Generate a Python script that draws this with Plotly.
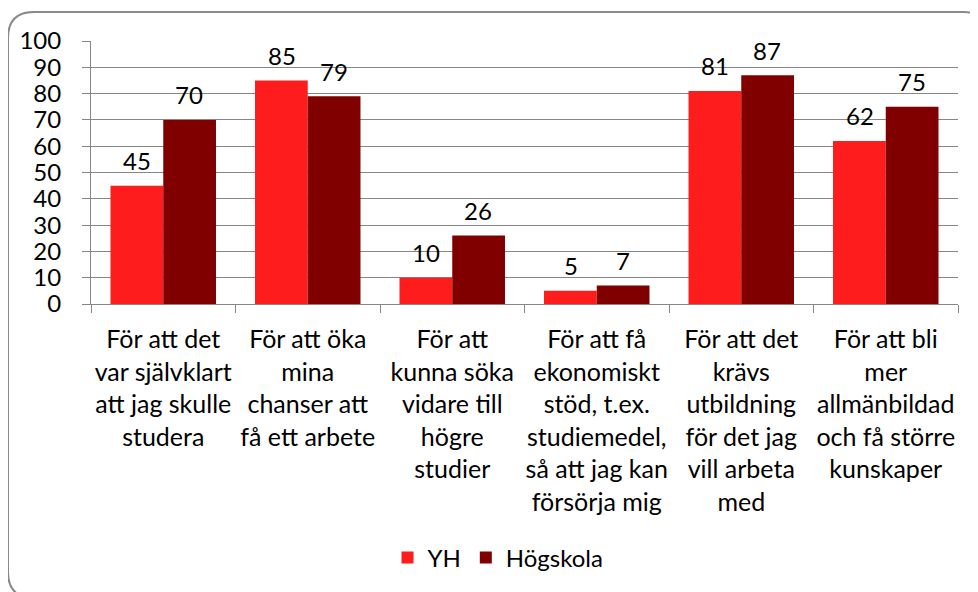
import plotly.graph_objects as go

categories = [
    "För att det<br>var självklart<br>att jag skulle<br>studera",
    "För att öka<br>mina<br>chanser att<br>få ett arbete",
    "För att<br>kunna söka<br>vidare till<br>högre<br>studier",
    "För att få<br>ekonomiskt<br>stöd, t.ex.<br>studiemedel,<br>så att jag kan<br>försörja mig",
    "För att det<br>krävs<br>utbildning<br>för det jag<br>vill arbeta<br>med",
    "För att bli<br>mer<br>allmänbildad<br>och få större<br>kunskaper",
]
yh_values = [45, 85, 10, 5, 81, 62]
hogskola_values = [70, 79, 26, 7, 87, 75]
series_names = ["YH", "Högskola"]
y_ticks = [0, 10, 20, 30, 40, 50, 60, 70, 80, 90, 100]

# the page body has an 8px margin; compensate so the figure lands like the reference
OFF = 8
W, H = 978 - OFF, 592 - OFF
ML, MR, MT, MB = 91 - OFF, 20, 41 - OFF, 288
PW = W - ML - MR
PH = H - MT - MB

FONT = "Lato"
GREY = "#868686"

def px_x(px):
    return (px - OFF - ML) / PW

def px_y(py):
    return (H - MB - (py - OFF)) / PH

fig = go.Figure()
fig.add_trace(go.Bar(name=series_names[0], x=categories, y=yh_values,
                     marker=dict(color="#FF1C1C", line=dict(width=0))))
fig.add_trace(go.Bar(name=series_names[1], x=categories, y=hogskola_values,
                     marker=dict(color="#800000", line=dict(width=0))))

annotations = []
for vals, shift in ((yh_values, -26), (hogskola_values, 26)):
    for c, v in zip(categories, vals):
        annotations.append(dict(x=c, y=v, xref="x", yref="y", text=str(v),
                                showarrow=False, xshift=shift, yshift=25,
                                font=dict(family=FONT, size=24, color="#000")))

# rounded border
x0, y0, x1, y1, r = 8, 12, 990, 598, 26
path = (f"M {px_x(x0+r)},{px_y(y0)} L {px_x(x1-r)},{px_y(y0)} "
        f"Q {px_x(x1)},{px_y(y0)} {px_x(x1)},{px_y(y0+r)} "
        f"L {px_x(x1)},{px_y(y1-r)} Q {px_x(x1)},{px_y(y1)} {px_x(x1-r)},{px_y(y1)} "
        f"L {px_x(x0+r)},{px_y(y1)} Q {px_x(x0)},{px_y(y1)} {px_x(x0)},{px_y(y1-r)} "
        f"L {px_x(x0)},{px_y(y0+r)} Q {px_x(x0)},{px_y(y0)} {px_x(x0+r)},{px_y(y0)} Z")

fig.update_layout(
    width=W, height=H,
    margin=dict(l=ML, r=MR, t=MT, b=MB),
    paper_bgcolor="white", plot_bgcolor="white",
    barmode="group", bargap=0.27, bargroupgap=0,
    font=dict(family=FONT, size=24, color="#000"),
    annotations=annotations,
    shapes=[dict(type="path", path=path, xref="paper", yref="paper",
                 line=dict(color="#8a8a8a", width=2), layer="below")],
    legend=dict(orientation="h", x=px_x(498), xanchor="center",
                y=px_y(558), yanchor="middle",
                font=dict(family=FONT, size=24, color="#000"),
                itemwidth=30, bgcolor="rgba(0,0,0,0)"),
    xaxis=dict(showline=True, linecolor=GREY, linewidth=1,
               ticks="outside", tickson="boundaries", ticklen=8, tickcolor=GREY,
               showgrid=False, tickangle=0,
               tickfont=dict(family=FONT, size=25, color="#000"),
               ticklabelstandoff=13),
    yaxis=dict(range=[0, 100], tickvals=y_ticks, showline=True, linecolor=GREY,
               linewidth=1, ticks="outside", ticklen=8, tickcolor=GREY,
               showgrid=True, gridcolor=GREY, gridwidth=1, zeroline=False,
               tickfont=dict(family=FONT, size=24, color="#000"),
               ticklabelstandoff=16),
)

fig.write_html("out.html")
